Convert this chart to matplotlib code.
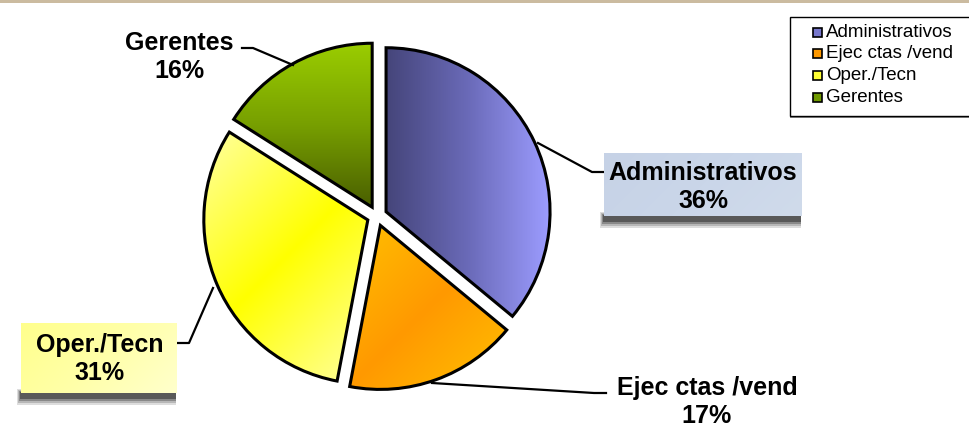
import numpy as np
import matplotlib.pyplot as plt
from matplotlib.patches import Rectangle
from matplotlib.colors import LinearSegmentedColormap

plt.rcParams['font.family'] = ['Liberation Sans', 'DejaVu Sans']

# datos
categorias = ["Administrativos", "Ejec ctas /vend", "Oper./Tecn", "Gerentes"]
porcentajes = [36, 17, 31, 16]
colores_leyenda = ["#7777cc", "#ff9900", "#ffff33", "#6f9900"]

W, H = 970, 428
fig = plt.figure(figsize=(W / 100, H / 100), dpi=100)
ax = fig.add_axes([0, 0, 1, 1])

def Y(y):
    # coordenada de imagen -> coordenada de datos
    return H - y

# explode va en unidades de datos (pixeles aqui)
wedges, _ = ax.pie(porcentajes, startangle=90, counterclock=False,
                   center=(377, Y(216)), radius=164, explode=[10] * 4,
                   wedgeprops=dict(facecolor="none", edgecolor="black",
                                   linewidth=2.2, zorder=3),
                   frame=True)

## gradientes de cada porcion
degradados = [
    ("h", ["#45457a", "#6a6ab8", "#9c9cff"]),
    ("diag", ["#ffc000", "#ff9900", "#ffc000"]),
    ("diag", ["#ffffa0", "#ffff00", "#ffffa0"]),
    ("v", ["#4a5f00", "#779f00", "#9acd00"]),
]

def rellenar(patch, modo, cols, z=2):
    ext = patch.get_path().get_extents()
    if isinstance(patch, Rectangle):
        ext = patch.get_bbox()
    x0, y0, x1, y1 = ext.x0, ext.y0, ext.x1, ext.y1
    n = 200
    gx, gy = np.meshgrid(np.linspace(0, 1, n), np.linspace(0, 1, n))
    if modo == "h":
        t = gx
    elif modo == "v":
        t = gy
    else:
        w, h = x1 - x0, y1 - y0
        s = gx * w - gy * h
        t = (s - s.min()) / (s.max() - s.min())
    cmap = LinearSegmentedColormap.from_list("g", cols)
    im = ax.imshow(t, extent=(x0, x1, y0, y1), origin="lower", cmap=cmap,
                   vmin=0, vmax=1, interpolation="bilinear", zorder=z)
    im.set_clip_path(patch)

for w, (modo, cols) in zip(wedges, degradados):
    rellenar(w, modo, cols)

## cajas de etiquetas con sombra
def caja(x0, y0, x1, y1, cols):
    for k, a in enumerate([0.15, 0.2, 0.3, 0.45]):
        ax.add_patch(Rectangle((x0 - 4 + k, Y(y1 + 12 - k * 2)),
                               (x1 - x0) + 3 - k, 16 - k * 3,
                               facecolor="#202020", edgecolor="none",
                               alpha=a, zorder=4))
    r = Rectangle((x0, Y(y1)), x1 - x0, y1 - y0,
                  facecolor=cols[0], edgecolor="none", zorder=5)
    ax.add_patch(r)
    rellenar(r, "diag", cols, z=5)

caja(604, 153, 802, 216, ["#c6d2e6", "#cad6e9", "#d0dbeb"])
caja(21, 323, 177, 393, ["#ffff8c", "#ffffa8", "#ffffcc"])

## lineas guia
guias = [
    [(538, 143), (592, 172), (604, 172)],
    [(432, 383), (594, 393), (606, 393)],
    [(213, 288), (189, 343), (177, 343)],
    [(293, 65), (253, 48), (242, 48)],
]
for g in guias:
    xs = [p[0] for p in g]
    ys = [Y(p[1]) for p in g]
    ax.plot(xs, ys, color="black", lw=1.6, zorder=4)

## textos
pos_texto = [(703, 187), (707, 402), (100, 359), (179, 57)]
for cat, pct, (tx, ty) in zip(categorias, porcentajes, pos_texto):
    ax.text(tx, Y(ty), f"{cat}\n{pct}%", ha="center", va="center",
            fontsize=18, fontweight="bold", linespacing=1.2, zorder=6)

## franja superior
ax.add_patch(Rectangle((0, Y(3)), W, 3, facecolor="#cbbba0",
                       edgecolor="none", zorder=7))

## leyenda
ax.add_patch(Rectangle((790, Y(118)), 190, 3, facecolor="#888888",
                       edgecolor="none", zorder=6))
ax.add_patch(Rectangle((790, Y(116)), 190, 99, facecolor="white",
                       edgecolor="black", lw=1, zorder=6))
for i, (cat, col) in enumerate(zip(categorias, colores_leyenda)):
    yc = 32 + i * 21.7
    ax.add_patch(Rectangle((813, Y(yc + 4.5)), 9, 9, facecolor=col,
                           edgecolor="black", lw=1.2, zorder=7))
    ax.text(826, Y(yc), cat, ha="left", va="center", fontsize=13.5,
            zorder=7)

ax.set_xlim(0, W)
ax.set_ylim(0, H)
ax.set_aspect("equal", adjustable="box")
ax.axis("off")

fig.savefig("out.png", dpi=100, facecolor="white")
